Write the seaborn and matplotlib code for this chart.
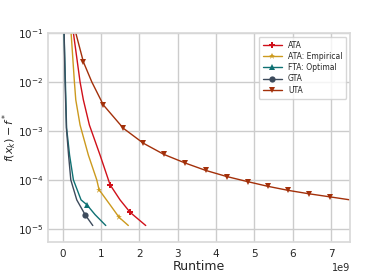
import numpy as np
import pandas as pd
import matplotlib
matplotlib.use("Agg")
import matplotlib.pyplot as plt
import seaborn as sns

# -----------------------------------------
# DATA (runtime in units of 1e9, suboptimality gap)
# -----------------------------------------

ata_x = [0.25, 0.277, 0.451, 0.537, 0.694, 0.973, 1.234, 1.495, 1.756, 2.165]
ata_y = [0.13, 0.1, 1e-2, 4.3e-3, 1.32e-3, 3.2e-4, 7.96e-5, 3.9e-5, 2.18e-5, 1.17e-5]
ata_marks = [6, 8]

emp_x = [0.2, 0.217, 0.303, 0.339, 0.451, 0.668, 0.887, 0.947, 1.234, 1.469, 1.711]
emp_y = [0.13, 0.1, 1e-2, 4.3e-3, 1.32e-3, 3.2e-4, 1e-4, 6.3e-5, 3.1e-5, 1.72e-5, 1.17e-5]
emp_marks = [7, 9]

fta_x = [0.03, 0.034, 0.068, 0.099, 0.177, 0.277, 0.477, 0.626, 0.843, 1.122]
fta_y = [0.13, 0.1, 1e-2, 1.15e-3, 3.2e-4, 1e-4, 3.9e-5, 3.12e-5, 1.95e-5, 1.17e-5]
fta_marks = [7]

gta_x = [0.03, 0.034, 0.06, 0.094, 0.151, 0.209, 0.365, 0.582, 0.783]
gta_y = [0.13, 0.1, 1e-2, 1.15e-3, 3.2e-4, 1e-4, 3.9e-5, 1.95e-5, 1.17e-5]
gta_marks = [7]

uta_x = [0.32, 0.339, 0.537, 0.757, 1.059, 1.581, 2.103, 2.643, 3.199, 3.731,
         4.279, 4.826, 5.348, 5.886, 6.426, 6.974, 7.6]
uta_y = [0.12, 0.1, 0.0257, 1e-2, 3.38e-3, 1.13e-3, 5.6e-4, 3.3e-4, 2.2e-4, 1.56e-4,
         1.17e-4, 9.2e-5, 7.4e-5, 6.1e-5, 5.2e-5, 4.5e-5, 3.8e-5]
uta_marks = [2, 4, 5, 6, 7, 8, 9, 10, 11, 12, 13, 14, 15]

series = [
    ("ATA", ata_x, ata_y, ata_marks, "#d0101a", "P"),
    ("ATA: Empirical", emp_x, emp_y, emp_marks, "#cc9a1e", "*"),
    ("FTA: Optimal", fta_x, fta_y, fta_marks, "#0f7173", "^"),
    ("GTA", gta_x, gta_y, gta_marks, "#3d4b5c", "o"),
    ("UTA", uta_x, uta_y, uta_marks, "#a3300a", "v"),
]

# -----------------------------------------
# PLOT
# -----------------------------------------

sns.set_theme(style="whitegrid")

fig, ax = plt.subplots(figsize=(3.89, 2.72), dpi=100)

for name, xs, ys, marks, color, marker in series:
    df = pd.DataFrame({"Runtime": np.array(xs) * 1e9, "gap": ys})
    sns.lineplot(data=df, x="Runtime", y="gap", ax=ax, color=color, label=name,
                 marker=marker, markevery=marks, markersize=4.5, linewidth=1.0,
                 markeredgewidth=0, sort=False, estimator=None)

ax.set_yscale("log")
ax.set_ylim(10 ** -5.27, 1e-1)
ax.set_xlim(-0.39e9, 7.5e9)
ax.set_xticks(np.arange(0, 8) * 1e9)

ax.set_xlabel("Runtime", fontsize=9, labelpad=0.5)
ax.set_ylabel(r"$f(x_k) - f^*$", fontsize=8)
ax.yaxis.set_label_coords(-0.095, 0.5)
ax.tick_params(axis="both", labelsize=7.5, length=0)
ax.tick_params(axis="x", pad=5)
ax.tick_params(axis="y", pad=3, labelsize=7.5)
ax.xaxis.get_offset_text().set_fontsize(7)

for s in ax.spines.values():
    s.set_color("#d9d9d9")

ax.legend(loc="upper right", fontsize=5.5, frameon=True, handlelength=2.5,
          borderpad=0.5, labelspacing=0.3)

fig.subplots_adjust(left=0.123, right=0.9, top=0.879, bottom=0.11)

fig.savefig("out.png", dpi=100)
